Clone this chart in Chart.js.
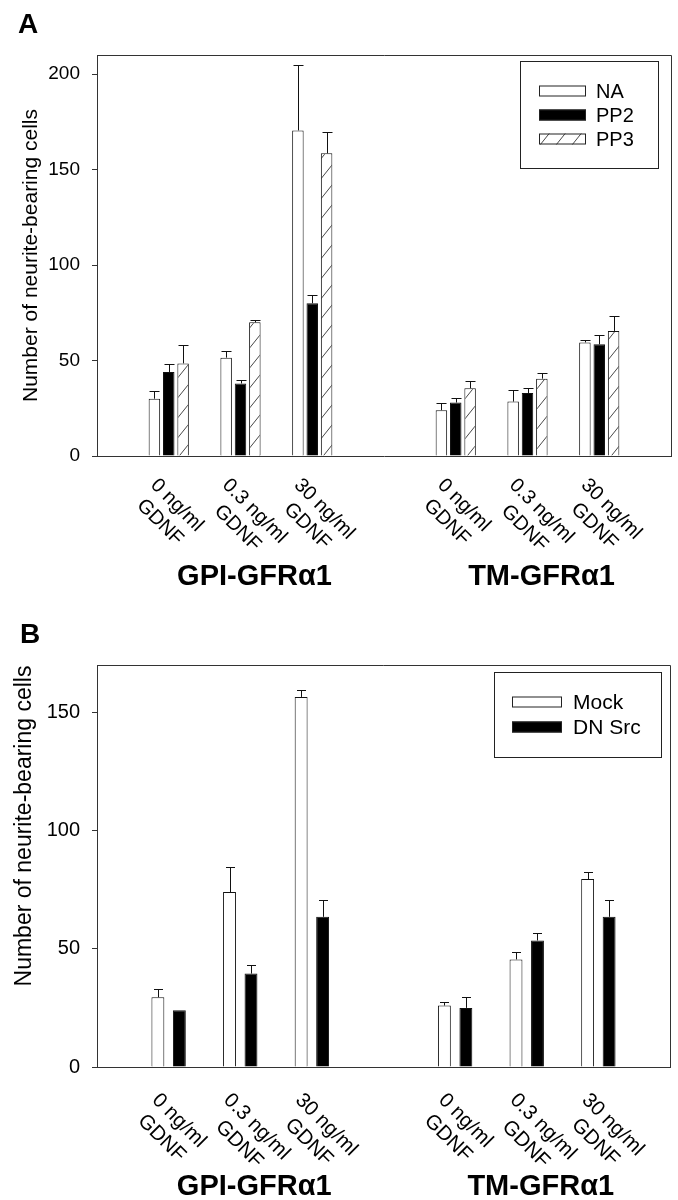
<!DOCTYPE html>
<html>
<head>
<meta charset="utf-8">
<script src="https://cdn.jsdelivr.net/npm/chart.js@4.4.1/dist/chart.umd.min.js"></script>
<style>
body{margin:0;background:#fff;}
canvas{display:block;}
</style>
</head>
<body>
<canvas id="chartA" width="678" height="600"></canvas>
<canvas id="chartB" width="678" height="600"></canvas>
<script>
var doses = ["0 ng/ml", "0.3 ng/ml", "30 ng/ml"];
var doseUnit = "GDNF";
var receptors = ["GPI-GFRα1", "TM-GFRα1"];
var yTitle = "Number of neurite-bearing cells";

// panel A : mean and error (upper SEM) per dose, GPI first then TM
var naValues  = [30, 51.5, 170.5, 24, 28.5, 59.5];
var naErrors  = [4, 3.5, 34.5, 3.5, 6, 1];
var pp2Values = [44, 38, 80, 28, 33, 58.5];
var pp2Errors = [4, 2, 4.5, 2.5, 2.5, 5];
var pp3Values = [48.5, 70, 158.5, 35.5, 40.5, 65.5];
var pp3Errors = [9.5, 1, 11, 4, 3, 8];
var ticksA = [0, 50, 100, 150, 200];

// panel B
var mockValues = [29.5, 74, 156.5, 26, 45.5, 79.5];
var mockErrors = [3.5, 10.5, 3, 1.5, 3, 3];
var dnValues   = [24, 39.5, 63.5, 25, 53.5, 63.5];
var dnErrors   = [0, 3.5, 7, 4.5, 3, 7];
var ticksB = [0, 50, 100, 150];

// empty slot at both ends and between the two receptor groups
function pad(a){ return [null, a[0], a[1], a[2], null, a[3], a[4], a[5], null]; }
var slotLabels = pad(doses.concat(doses)).map(function(d){ return d ? [d, doseUnit] : ""; });

function hatch(){
  var w = 16, h = 20;
  var c = document.createElement("canvas");
  c.width = w; c.height = h;
  var g = c.getContext("2d");
  g.fillStyle = "#fff";
  g.fillRect(0, 0, w, h);
  g.strokeStyle = "#333";
  g.lineWidth = 0.9;
  [-w, 0, w].forEach(function(dx){
    g.beginPath();
    g.moveTo(dx, h);
    g.lineTo(dx + w, 0);
    g.stroke();
  });
  return g.createPattern(c, "repeat");
}

var FONT = "'Liberation Sans', Arial, sans-serif";

var figurePlugin = {
  id: "figure",
  afterDatasetsDraw: function(chart, args, o){
    var ctx = chart.ctx, y = chart.scales.y;
    ctx.save();
    ctx.strokeStyle = "#111";
    ctx.lineWidth = 1;
    chart.data.datasets.forEach(function(ds, i){
      var meta = chart.getDatasetMeta(i);
      meta.data.forEach(function(bar, j){
        var v = ds.data[j], e = ds.errors[j];
        if (v == null || !e) return;
        var x = Math.round(bar.x) + 0.5;
        var yTop = Math.round(y.getPixelForValue(v + e)) + 0.5;
        ctx.beginPath();
        ctx.moveTo(x, bar.y);
        ctx.lineTo(x, yTop);
        ctx.moveTo(x - o.cap / 2, yTop);
        ctx.lineTo(x + o.cap / 2, yTop);
        ctx.stroke();
      });
    });
    ctx.restore();
  },
  afterDraw: function(chart, args, o){
    var ctx = chart.ctx, a = chart.chartArea, xs = chart.scales.x;
    ctx.save();
    // frame top and right
    ctx.strokeStyle = "#333";
    ctx.lineWidth = 1;
    ctx.beginPath();
    ctx.moveTo(a.left, Math.round(a.top) + 0.5);
    ctx.lineTo(Math.round(a.right) + 0.5, Math.round(a.top) + 0.5);
    ctx.lineTo(Math.round(a.right) + 0.5, a.bottom);
    ctx.stroke();

    ctx.fillStyle = "#000";
    // panel letter
    ctx.font = "bold 28px " + FONT;
    ctx.textAlign = "left";
    ctx.textBaseline = "alphabetic";
    ctx.fillText(o.letter, o.letterX, o.letterY);

    // y title
    ctx.save();
    ctx.font = o.titleSize + "px " + FONT;
    ctx.translate(o.titleX, (a.top + a.bottom) / 2 + o.titleShift);
    ctx.rotate(-Math.PI / 2);
    ctx.textAlign = "center";
    ctx.textBaseline = "middle";
    ctx.fillText(yTitle, 0, 0);
    ctx.restore();

    // rotated dose labels
    ctx.font = o.labelSize + "px " + FONT;
    chart.data.labels.forEach(function(lab, i){
      if (!lab) return;
      var cx = xs.getPixelForValue(i);
      ctx.save();
      ctx.translate(cx + o.labelDx, a.bottom + o.labelDy);
      ctx.rotate(Math.PI / 4);
      var w1 = ctx.measureText(lab[0]).width;
      ctx.textAlign = "left";
      ctx.fillText(lab[0], 0, 0);
      ctx.textAlign = "center";
      ctx.fillText(lab[1], w1 / 2, o.labelSize * 1.2);
      ctx.restore();
    });

    // receptor group labels
    ctx.font = "bold 29px " + FONT;
    ctx.textAlign = "center";
    receptors.forEach(function(r, k){
      var cx = xs.getPixelForValue(2 + 4 * k) + 14;
      ctx.fillText(r, cx, o.groupY);
    });

    // legend box
    var L = o.legend;
    ctx.strokeStyle = "#222";
    ctx.strokeRect(L.x + 0.5, L.y + 0.5, L.w, L.h);
    ctx.font = L.size + "px " + FONT;
    ctx.textAlign = "left";
    ctx.textBaseline = "middle";
    chart.data.datasets.forEach(function(ds, i){
      var ry = L.rows[i];
      ctx.fillStyle = ds.backgroundColor;
      ctx.fillRect(L.sx, ry - 5.5, L.sw, 11);
      ctx.strokeStyle = "#222";
      ctx.strokeRect(L.sx + 0.5, ry - 5.5 + 0.5, L.sw - 1, 10);
      ctx.fillStyle = "#000";
      ctx.fillText(ds.label, L.tx, ry + 1);
    });
    ctx.restore();
  }
};

function panel(id, p){
  return new Chart(document.getElementById(id), {
    type: "bar",
    data: { labels: slotLabels, datasets: p.datasets },
    options: {
      responsive: false,
      animation: false,
      layout: { padding: { top: p.top, right: p.right, left: 0, bottom: 0 } },
      plugins: {
        legend: { display: false },
        tooltip: { enabled: false },
        figure: p.figure
      },
      scales: {
        x: {
          offset: false,
          grid: { display: false, offset: false },
          ticks: { display: false },
          border: { color: "#333" },
          afterFit: function(s){ s.height = p.xHeight; }
        },
        y: {
          min: 0,
          max: p.max,
          afterBuildTicks: function(s){ s.ticks = p.ticks.map(function(v){ return { value: v }; }); },
          ticks: { color: "#000", padding: 12, font: { family: FONT, size: p.tickSize } },
          grid: { drawOnChartArea: false, tickLength: 5, color: "#333" },
          border: { color: "#333" },
          afterFit: function(s){ s.width = 97; }
        }
      }
    },
    plugins: [figurePlugin]
  });
}

function bars(label, values, errors, fill, barPct){
  return {
    label: label,
    data: pad(values),
    errors: pad(errors),
    backgroundColor: fill,
    borderColor: "#111",
    borderWidth: 1,
    categoryPercentage: 0.6,
    barPercentage: barPct
  };
}

panel("chartA", {
  top: 55, right: 7, xHeight: 144, max: 210, ticks: ticksA, tickSize: 19,
  datasets: [
    bars("NA", naValues, naErrors, "#fff", 0.8),
    bars("PP2", pp2Values, pp2Errors, "#000", 0.8),
    bars("PP3", pp3Values, pp3Errors, hatch(), 0.8)
  ],
  figure: {
    cap: 10, letter: "A", letterX: 18, letterY: 33,
    titleX: 31, titleShift: 0, titleSize: 21,
    labelSize: 20, labelDx: -19, labelDy: 30, groupY: 585,
    legend: { x: 520, y: 61, w: 138, h: 107, sx: 539, sw: 47, tx: 596, size: 20, rows: [91, 115, 139] }
  }
});

panel("chartB", {
  top: 65, right: 8, xHeight: 133, max: 170, ticks: ticksB, tickSize: 20,
  datasets: [
    bars("Mock", mockValues, mockErrors, "#fff", 0.6),
    bars("DN Src", dnValues, dnErrors, "#000", 0.6)
  ],
  figure: {
    cap: 9, letter: "B", letterX: 20, letterY: 43,
    titleX: 25, titleShift: -40, titleSize: 23,
    labelSize: 20.5, labelDx: -17.5, labelDy: 34, groupY: 595,
    legend: { x: 494, y: 72, w: 167, h: 85, sx: 512, sw: 50, tx: 573, size: 21, rows: [102, 127] }
  }
});
</script>
</body>
</html>
